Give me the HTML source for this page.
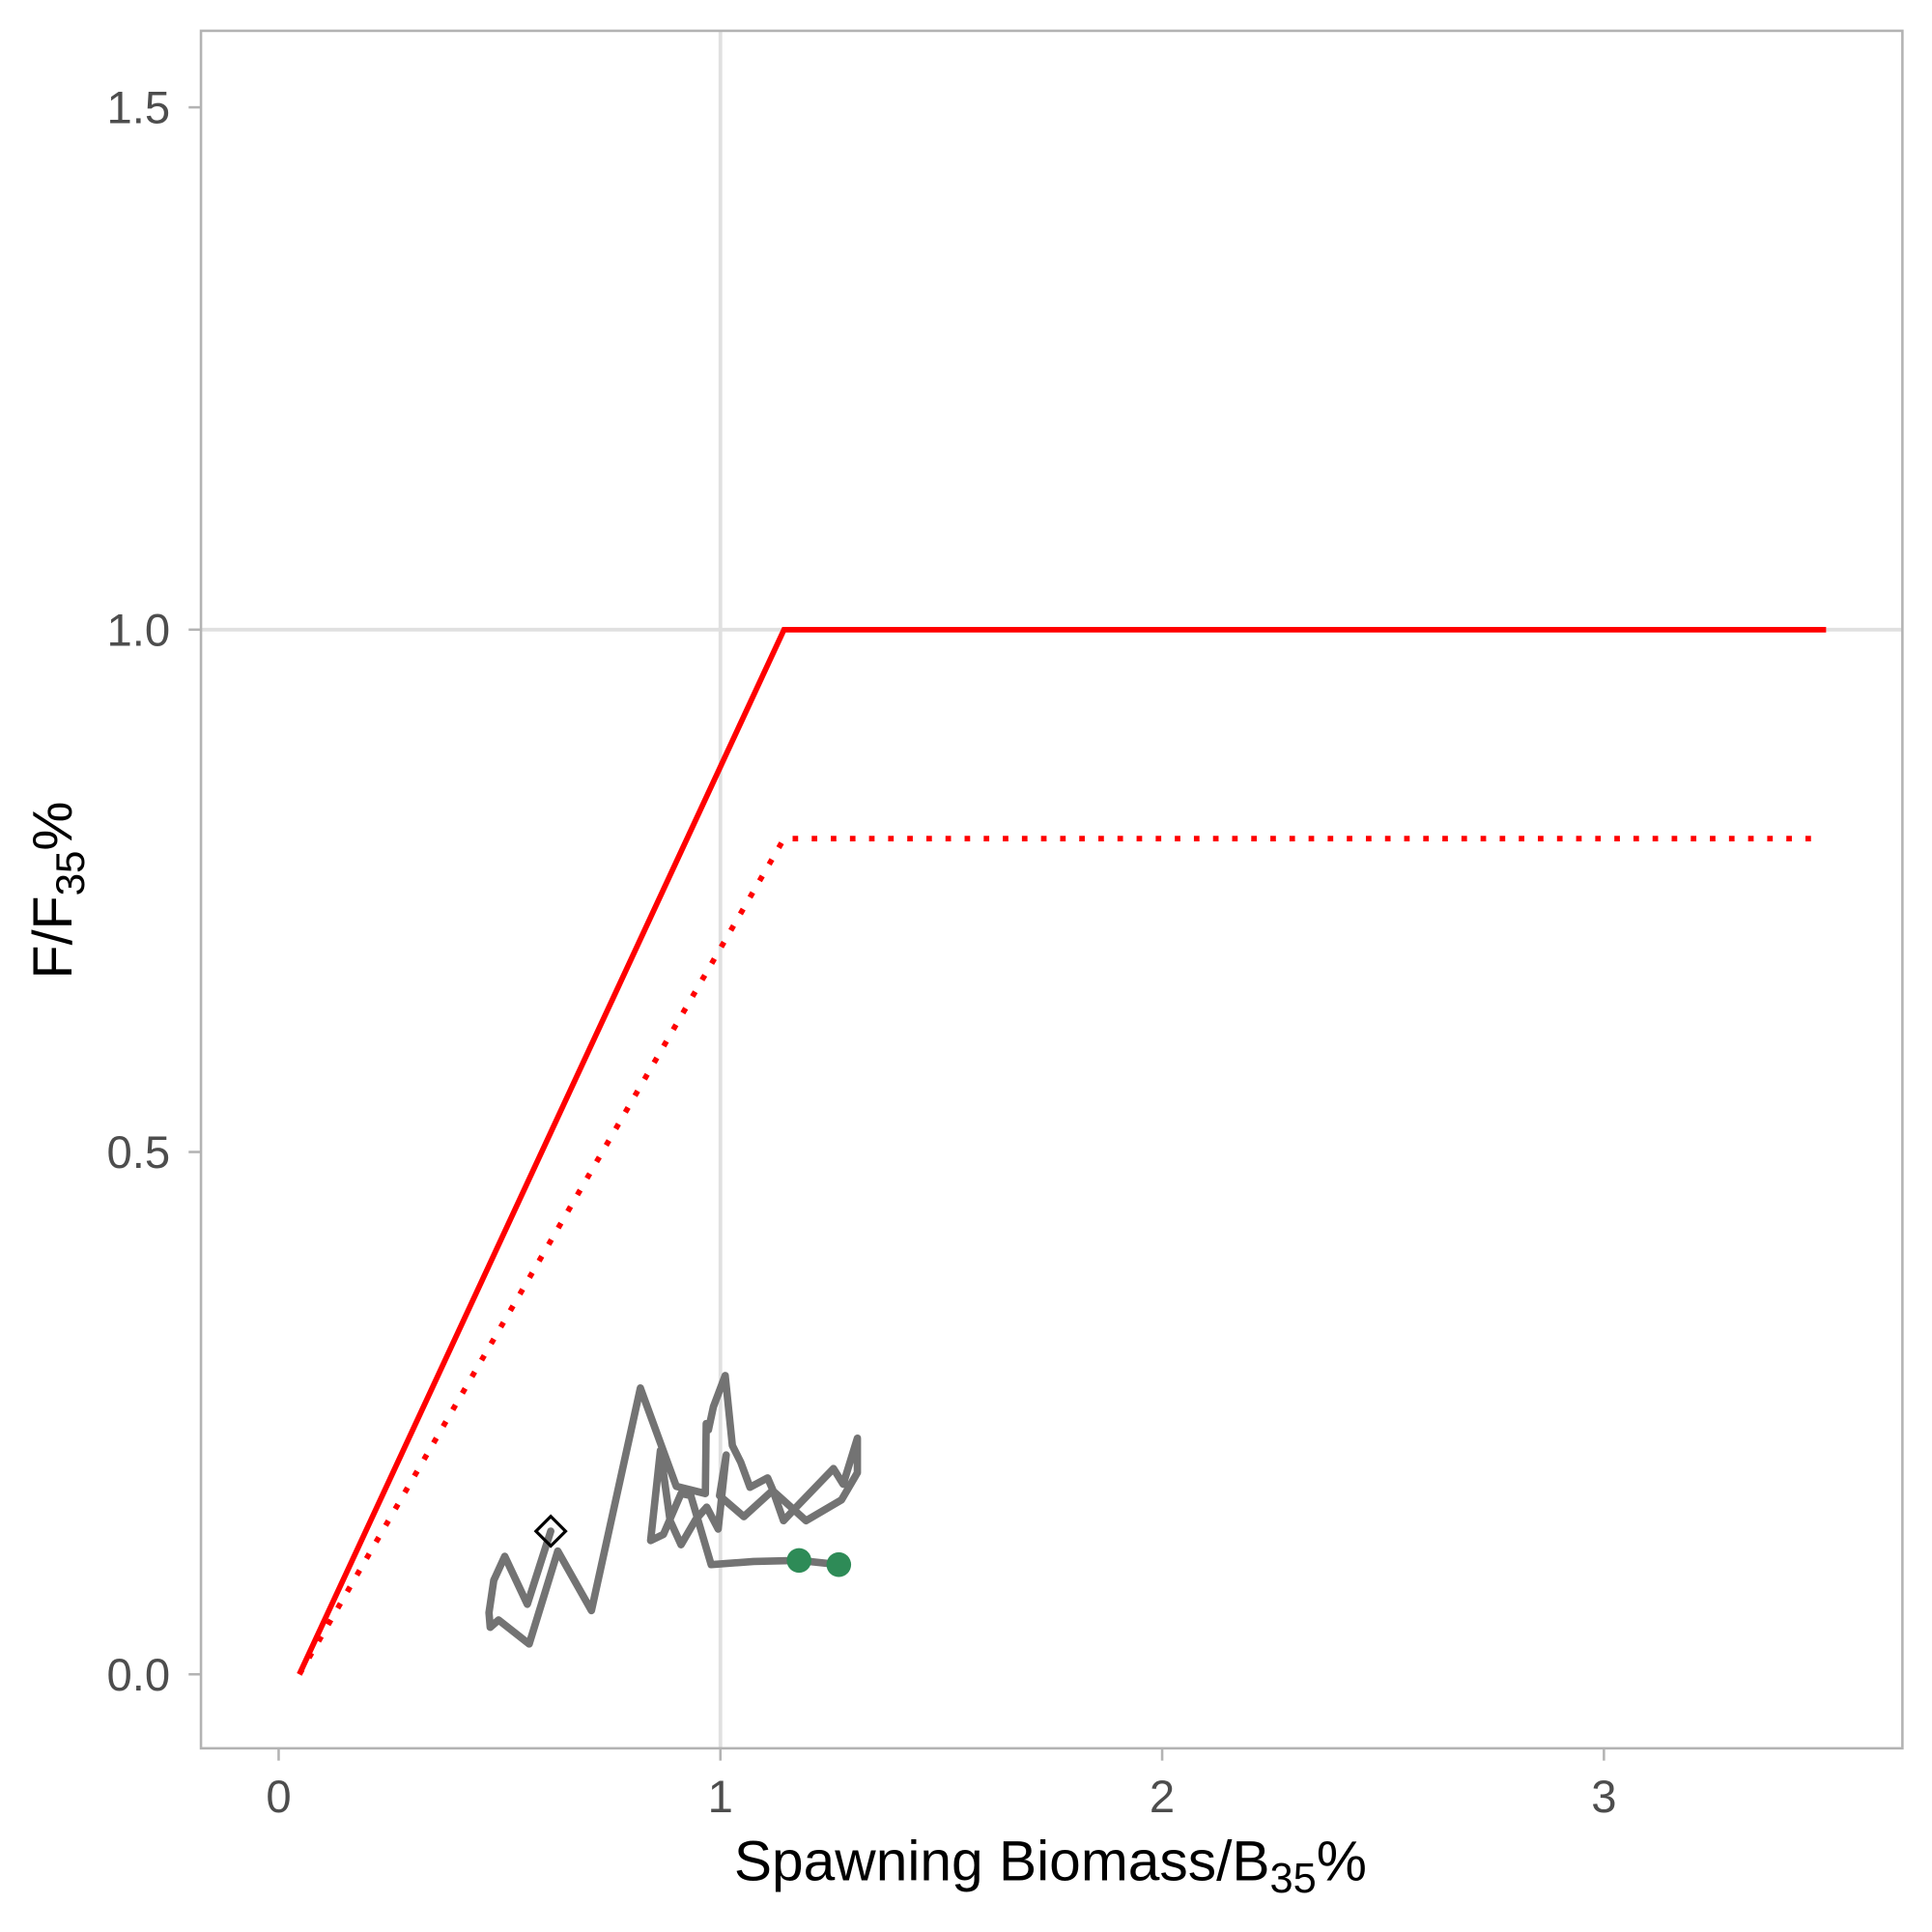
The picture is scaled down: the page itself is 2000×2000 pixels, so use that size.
<!DOCTYPE html>
<html><head><meta charset="utf-8"><style>html,body{margin:0;padding:0;background:#fff}svg{display:block}</style></head>
<body>
<svg id="chart" width="2000" height="2000" viewBox="0 0 1567 1567" xmlns="http://www.w3.org/2000/svg" font-family="Liberation Sans, sans-serif">
<g id="grid"></g>
<g id="marks"></g>
<g id="axes"></g>
<text transform="translate(58,722) rotate(-90)" text-anchor="middle" font-size="45" fill="#000">F/F<tspan font-size="33" dy="10">35</tspan><tspan dy="-10">%</tspan></text>
<text x="852" y="1525" text-anchor="middle" font-size="46" fill="#000">Spawning Biomass/B<tspan font-size="34" dy="10">35</tspan><tspan dy="-10">%</tspan></text>
</svg>
<script>
const xTicks=[0,1,2,3];
const xTickLabels=["0","1","2","3"];
const yTicks=[0,0.5,1.0,1.5];
const yTickLabels=["0.0","0.5","1.0","1.5"];
const hcrX=[0.047,1.144,3.503];
const hcrY=[0,1.0,1.0];
const abcX=[0.047,1.144,3.495];
const abcY=[0,0.80,0.80];
const trajX=[0.616,0.563,0.512,0.487,0.476,0.479,0.498,0.567,0.632,0.708,0.819,0.900,0.966,0.968,0.973,0.984,1.011,1.027,1.046,1.067,1.107,1.118,1.143,1.172,1.256,1.278,1.310,1.310,1.274,1.194,1.118,1.053,0.998,1.013,0.995,0.969,0.944,0.911,0.886,0.864,0.842,0.871,0.911,0.933,0.979,1.075,1.178,1.268];
const trajY=[0.137,0.067,0.113,0.090,0.059,0.045,0.052,0.029,0.118,0.061,0.274,0.180,0.173,0.240,0.234,0.256,0.286,0.219,0.203,0.179,0.188,0.177,0.147,0.160,0.197,0.182,0.226,0.193,0.167,0.147,0.176,0.151,0.171,0.210,0.139,0.160,0.148,0.124,0.147,0.214,0.128,0.134,0.173,0.171,0.105,0.108,0.109,0.105];
const NS="http://www.w3.org/2000/svg";
const L=163,R=1543,T=25,B=1418;
const sx=v=>226+v*358.3;
const sy=v=>1358-v*847.3;
function mk(parent,tag,attrs){const e=document.createElementNS(NS,tag);for(const k in attrs)e.setAttribute(k,attrs[k]);parent.appendChild(e);return e;}
const grid=document.getElementById('grid'),marks=document.getElementById('marks'),axes=document.getElementById('axes');
mk(grid,'rect',{x:L,y:T,width:R-L,height:B-T,fill:'#fff'});
const gx=mk(grid,'line',{x1:sx(1),x2:sx(1),y1:T,y2:B,stroke:'#e0e0e0','stroke-width':3});


const gy=mk(grid,'line',{x1:L,x2:R,y1:sy(1),y2:sy(1),stroke:'#e0e0e0','stroke-width':3});


const pts=(xs,ys)=>xs.map((x,i)=>sx(x).toFixed(1)+','+sy(ys[i]).toFixed(1)).join(' ');
const hcr=mk(marks,'polyline',{points:pts(hcrX,hcrY),fill:'none',stroke:'#ff0000','stroke-width':4.5});


const abc=mk(marks,'polyline',{points:pts(abcX,abcY),fill:'none',stroke:'#ff0000','stroke-width':4.5,'stroke-dasharray':'4.5 11'});


const tr=mk(marks,'polyline',{points:pts(trajX,trajY),fill:'none',stroke:'#737373','stroke-width':6,'stroke-linejoin':'round','stroke-linecap':'round'});


const n=trajX.length;
for(const i of [n-2,n-1]){const c=mk(marks,'circle',{cx:sx(trajX[i]),cy:sy(trajY[i]),r:10,fill:'#2e8b57'});

}
const dx=sx(trajX[0]),dy=sy(trajY[0]);
const d=mk(marks,'polygon',{points:`${dx},${dy-12} ${dx+12},${dy} ${dx},${dy+12} ${dx-12},${dy}`,fill:'none',stroke:'#000','stroke-width':2.5});


const fr=mk(axes,'rect',{x:L,y:T,width:R-L,height:B-T,fill:'none',stroke:'#b3b3b3','stroke-width':2});


xTicks.forEach((v,i)=>{const t=mk(axes,'line',{x1:sx(v),x2:sx(v),y1:B,y2:B+10,stroke:'#b3b3b3','stroke-width':2});


const l=mk(axes,'text',{x:sx(v),y:B+52,'text-anchor':'middle','font-size':37,fill:'#4d4d4d'});l.textContent=xTickLabels[i];

});
yTicks.forEach((v,i)=>{const t=mk(axes,'line',{x1:L-10,x2:L,y1:sy(v),y2:sy(v),stroke:'#b3b3b3','stroke-width':2});


const l=mk(axes,'text',{x:L-25,y:sy(v)+13,'text-anchor':'end','font-size':37,fill:'#4d4d4d'});l.textContent=yTickLabels[i];

});
</script>
</body></html>
